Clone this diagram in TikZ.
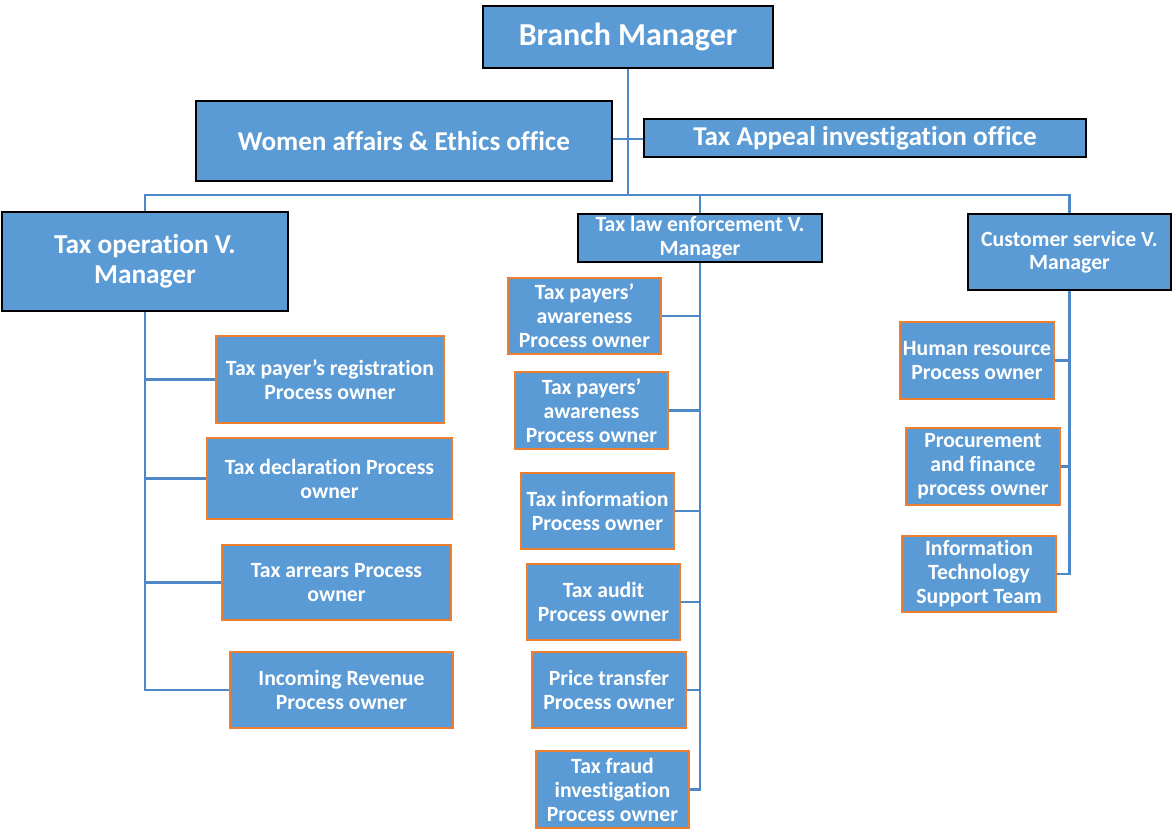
\documentclass[tikz,border=0pt]{standalone}
\usepackage{fontspec}
\setmainfont[Ligatures={NoCommon}]{Carlito}
\definecolor{boxblue}{HTML}{5B9BD5}
\definecolor{linkblue}{HTML}{4E88C7}
\definecolor{boxorange}{HTML}{ED7D31}
\tikzset{
  base/.style={draw, fill=boxblue, text=white, font=\bfseries, align=center, inner sep=0pt},
  mgr/.style={base, draw=black, line width=2.1pt},
  sub/.style={base, draw=boxorange, line width=2.1pt, font=\fontsize{16.3}{18}\selectfont\bfseries},
  link/.style={draw=linkblue, line width=1.7pt},
}
\begin{document}
\begin{tikzpicture}[x=0.75pt,y=-0.75pt]
\useasboundingbox (0,0) rectangle (1172,830);
\coordinate (h) at (628,195);
\coordinate (m) at (628,139);
% managers
\node[mgr, font=\fontsize{24}{28}\selectfont\bfseries, minimum width=290*0.75pt, minimum height=62*0.75pt] (bm) at (628,37) {Branch Manager};
\node[mgr, font=\fontsize{20.4}{23}\selectfont\bfseries, minimum width=416*0.75pt, minimum height=80*0.75pt] (wa) at (404,141) {Women affairs \& Ethics office};
\node[mgr, font=\fontsize{20.4}{23}\selectfont\bfseries, minimum width=442*0.75pt, minimum height=38*0.75pt] (ta) at (865,138) {Tax Appeal investigation office};
\node[mgr, font=\fontsize{20.5}{22.5}\selectfont\bfseries, minimum width=286*0.75pt, minimum height=99*0.75pt] (to) at (145,261.5) {Tax operation V.\\Manager};
\node[mgr, font=\fontsize{16.3}{18}\selectfont\bfseries, minimum width=244*0.75pt, minimum height=48*0.75pt] (tl) at (700,238) {Tax law enforcement V.\\Manager};
\node[mgr, font=\fontsize{16.3}{17.5}\selectfont\bfseries, minimum width=203*0.75pt, minimum height=76*0.75pt] (cs) at (1069.5,252) {Customer service V.\\Manager};
% tax operation children
\node[sub, minimum width=228*0.75pt, minimum height=87*0.75pt] (o1) at (330,379.5) {Tax payer’s registration\\Process owner};
\node[sub, minimum width=245*0.75pt, minimum height=81*0.75pt] (o2) at (329.5,478.5) {Tax declaration Process\\owner};
\node[sub, minimum width=229*0.75pt, minimum height=75*0.75pt] (o3) at (336.5,582.5) {Tax arrears Process\\owner};
\node[sub, minimum width=223*0.75pt, minimum height=76*0.75pt] (o4) at (341.5,690) {Incoming Revenue\\Process owner};
% tax law children
\node[sub, minimum width=153*0.75pt, minimum height=76*0.75pt] (l1) at (584.5,316) {Tax payers’\\awareness\\Process owner};
\node[sub, minimum width=153*0.75pt, minimum height=77*0.75pt] (l2) at (591.5,410.5) {Tax payers’\\awareness\\Process owner};
\node[sub, minimum width=153*0.75pt, minimum height=76*0.75pt] (l3) at (597.5,511) {Tax information\\Process owner};
\node[sub, minimum width=153*0.75pt, minimum height=76*0.75pt] (l4) at (603.5,602) {Tax audit\\Process owner};
\node[sub, minimum width=154*0.75pt, minimum height=76*0.75pt] (l5) at (609,690) {Price transfer\\Process owner};
\node[sub, minimum width=153*0.75pt, minimum height=77*0.75pt] (l6) at (612.5,789.5) {Tax fraud\\investigation\\Process owner};
% customer children
\node[sub, minimum width=154*0.75pt, minimum height=77*0.75pt] (r1) at (977,360.5) {Human resource\\Process owner};
\node[sub, minimum width=154*0.75pt, minimum height=77*0.75pt] (r2) at (983,466.5) {Procurement\\and finance\\process owner};
\node[sub, minimum width=154*0.75pt, minimum height=76*0.75pt] (r3) at (979,574) {Information\\Technology\\Support Team};
% connectors
\draw[link] (bm.south) -- (h);
\draw[link] (m -| wa.east) -- (m -| ta.west);
\draw[link] (to.north) |- (h) -| (cs.north);
\draw[link] (h) -| (tl.north);
\foreach \c in {o1,o2,o3,o4} \draw[link] (to.south) |- (\c.west);
\foreach \c in {l1,l2,l3,l4,l5,l6} \draw[link] (tl.south) |- (\c.east);
\foreach \c in {r1,r2,r3} \draw[link] (cs.south) |- (\c.east);
\end{tikzpicture}
\end{document}
